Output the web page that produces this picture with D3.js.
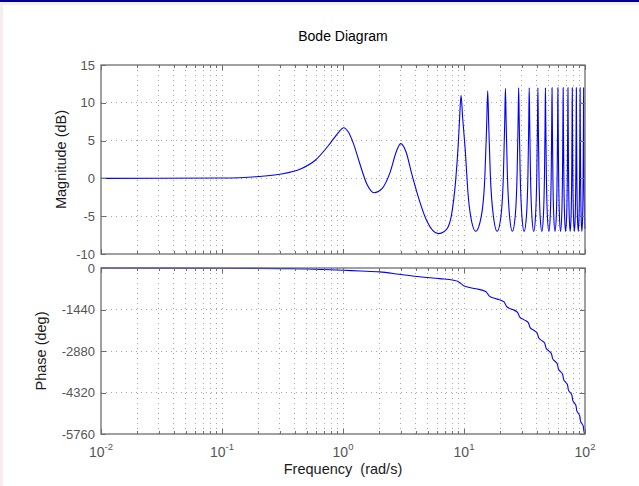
<!DOCTYPE html>
<html>
<head>
<meta charset="utf-8">
<script src="https://cdn.jsdelivr.net/npm/d3@7"></script>
<style>
  body { margin: 0; background: #fff; }
  svg { display: block; font-family: 'Liberation Sans', Arial, sans-serif; }
  .tick text { font-size: 13px; fill: #555; font-family: 'Liberation Sans', Arial, sans-serif; }
  .tick line { stroke: #6e6e6e; shape-rendering: crispEdges; }
  .grid line { stroke: #a6a6a6; stroke-dasharray: 1,4; shape-rendering: crispEdges; }
</style>
</head>
<body>
<div id="app"></div>
<script>
'use strict'

// magnitude curve (rad/s, dB)
const magFreq = [
  0.01, 0.03, 0.1, 0.2, 0.3, 0.44, 0.59, 0.78, 0.92, 1.01, 1.11, 1.22, 1.38, 1.57, 1.81,
  2.09, 2.45, 2.78, 3.0, 3.32, 3.7, 4.2, 4.92, 6.14, 7.2, 7.91, 8.53, 8.97, 9.2, 9.45,
  9.75, 10.2, 10.86, 11.6, 12.5,
  13.9, 14.9, 15.4, 15.7, 16.0, 16.5, 17.5, 18.8,
  20.2, 21.2, 21.7, 22.0, 22.3, 22.8, 23.8, 25.1,
  26.5, 27.5, 28.0, 28.3, 28.6, 29.1, 30.1, 31.4,
  32.8, 33.8, 34.3, 34.6, 34.9, 35.4, 36.4, 37.7,
  39.0, 40.0, 40.5, 40.8, 41.1, 41.6, 42.6, 44.0,
  45.3, 46.3, 46.8, 47.1, 47.4, 47.9, 48.9, 50.3,
  51.6, 52.6, 53.1, 53.4, 53.7, 54.2, 55.2, 56.5,
  57.9, 58.9, 59.4, 59.7, 60.0, 60.5, 61.5, 62.8,
  64.2, 65.2, 65.7, 66.0, 66.3, 66.8, 67.8, 69.1,
  70.5, 71.5, 72.0, 72.3, 72.6, 73.1, 74.1, 75.4,
  76.7, 77.7, 78.2, 78.5, 78.8, 79.3, 80.3, 81.7,
  83.0, 84.0, 84.5, 84.8, 85.1, 85.6, 86.6, 88.0,
  89.3, 90.3, 90.8, 91.1, 91.4, 91.9, 92.9, 94.2,
  95.6, 96.6, 97.1, 97.4, 97.7, 98.2, 99.2, 100
]
const magDb = [
  0, 0.01, 0.05, 0.25, 0.55, 1.2, 2.4, 4.6, 6.1, 6.7, 6.1, 4.6, 1.9, -0.7, -1.9,
  -1.4, 0.8, 3.7, 4.6, 3.5, 0.6, -2.5, -5.6, -7.3, -6.7, -4.7, -0.3, 4.6, 8.0, 11.0,
  8.0, 4.1, -2.5, -5.8, -7.0,
  -5.0, 0.5, 7.2, 11.6, 7.2, 0.5, -5.0, -7.0,
  -5.0, 0.8, 7.5, 11.9, 7.5, 0.8, -5.0, -7.0,
  -5.0, 0.9, 7.6, 12.0, 7.6, 0.9, -5.0, -7.0,
  -5.0, 0.9, 7.6, 12.0, 7.6, 0.9, -5.0, -7.0,
  -5.0, 0.9, 7.6, 12.0, 7.6, 0.9, -5.0, -7.0,
  -5.0, 0.9, 7.6, 12.0, 7.6, 0.9, -5.0, -7.0,
  -5.0, 0.9, 7.6, 12.0, 7.6, 0.9, -5.0, -7.0,
  -5.0, 0.9, 7.6, 12.0, 7.6, 0.9, -5.0, -7.0,
  -5.0, 0.9, 7.6, 12.0, 7.6, 0.9, -5.0, -7.0,
  -5.0, 0.9, 7.6, 12.0, 7.6, 0.9, -5.0, -7.0,
  -5.0, 0.9, 7.6, 12.0, 7.6, 0.9, -5.0, -7.0,
  -5.0, 0.9, 7.6, 12.0, 7.6, 0.9, -5.0, -7.0,
  -5.0, 0.9, 7.6, 12.0, 7.6, 0.9, -5.0, -7.0,
  -5.0, 0.9, 7.6, 12.0, 7.6, 0.9, -5.0, -6.7
]

// phase curve (rad/s, deg)
const phaseFreq = [
  0.01, 0.1, 0.3, 0.5, 0.78, 1.0, 1.4, 2.0, 2.9, 4.3, 6.3, 8.2, 8.85, 9.45, 10.05, 12.57,
  15.1, 15.7, 16.3, 18.85,
  21.4, 22.0, 22.6, 25.1,
  27.7, 28.3, 28.9, 31.4,
  34.0, 34.6, 35.2, 37.7,
  40.2, 40.8, 41.4, 44.0,
  46.5, 47.1, 47.7, 50.3,
  52.8, 53.4, 54.0, 56.5,
  59.1, 59.7, 60.3, 62.8,
  65.4, 66.0, 66.6, 69.1,
  71.7, 72.3, 72.9, 75.4,
  77.9, 78.5, 79.1, 81.7,
  84.2, 84.8, 85.4, 88.0,
  90.5, 91.1, 91.7, 94.2,
  96.8, 97.4, 98.0, 100
]
const phaseDeg = [
  -1, -7, -20, -36, -60, -78, -105, -135, -215, -305, -370, -425, -460, -541, -626, -720,
  -815, -900, -984, -1080,
  -1176, -1261, -1345, -1438,
  -1537, -1622, -1706, -1799,
  -1898, -1983, -2067, -2160,
  -2253, -2338, -2422, -2521,
  -2614, -2699, -2783, -2882,
  -2975, -3060, -3144, -3237,
  -3336, -3421, -3505, -3598,
  -3697, -3782, -3866, -3959,
  -4058, -4143, -4227, -4320,
  -4414, -4498, -4582, -4681,
  -4775, -4859, -4943, -5042,
  -5136, -5220, -5304, -5398,
  -5497, -5581, -5665, -5745
]

const freqTicks = [0.01, 0.1, 1, 10, 100]
const freqExps = ['-2', '-1', '0', '1', '2']
const magTicks = [15, 10, 5, 0, -5, -10]
const phaseTicks = [0, -1440, -2880, -4320, -5760]

const W = 639, H = 486
const left = 101, right = 585
const mag = { top: 65, bottom: 254 }
const ph = { top: 268, bottom: 434 }

const svg = d3.select('#app').append('svg')
  .attr('width', W)
  .attr('height', H)

// page frame
svg.append('rect').attr('width', W).attr('height', H).attr('fill', '#fff')
svg.append('rect').attr('x', 0).attr('y', 2).attr('width', W).attr('height', 3).attr('fill', '#f6eeee')
svg.append('rect').attr('x', 0).attr('y', 2).attr('width', 3).attr('height', H).attr('fill', '#f6eeee')
svg.append('rect').attr('x', 0).attr('y', 0).attr('width', W).attr('height', 2).attr('fill', '#00008f')

const x = d3.scaleLog().domain([0.01, 100]).range([left, right])
const isMajor = t => Math.abs(Math.log10(t) - Math.round(Math.log10(t))) < 1e-9
const allTicks = x.ticks()
const minorTicks = allTicks.filter(t => !isMajor(t))

const yMag = d3.scaleLinear().domain([-10, 15]).range([mag.bottom, mag.top])
const yPh = d3.scaleLinear().domain([-5760, 0]).range([ph.bottom, ph.top])

const drawPanel = (y, box, ticks, values, freqs) => {
  // dotted grid
  const grid = svg.append('g').attr('class', 'grid')
  grid.selectAll('.vg')
    .data(allTicks.filter(t => t > 0.0101 && t < 99.9))
    .join('line')
      .attr('class', 'vg')
      .attr('x1', d => x(d)).attr('x2', d => x(d))
      .attr('y1', box.top).attr('y2', box.bottom)
  grid.selectAll('.hg')
    .data(ticks.filter(t => y(t) > box.top + 1 && y(t) < box.bottom - 1))
    .join('line')
      .attr('class', 'hg')
      .attr('x1', left).attr('x2', right)
      .attr('y1', d => y(d)).attr('y2', d => y(d))

  // curve
  const line = d3.line()
    .x(d => x(d[0]))
    .y(d => y(d[1]))
    .curve(d3.curveMonotoneX)
  svg.append('path')
    .datum(freqs.map((f, i) => [f, values[i]]))
    .attr('d', line)
    .attr('fill', 'none')
    .attr('stroke', '#0000ff')
    .attr('stroke-width', 1.1)

  // ticks on all four sides, pointing inward
  const axes = svg.append('g')
  axes.append('g').attr('transform', `translate(0,${box.bottom})`)
    .call(d3.axisBottom(x).tickValues(minorTicks).tickSize(-3).tickFormat(''))
  axes.append('g').attr('transform', `translate(0,${box.bottom})`)
    .call(d3.axisBottom(x).tickValues(freqTicks).tickSize(-5).tickFormat(''))
  axes.append('g').attr('transform', `translate(0,${box.top})`)
    .call(d3.axisTop(x).tickValues(minorTicks).tickSize(-3).tickFormat(''))
  axes.append('g').attr('transform', `translate(0,${box.top})`)
    .call(d3.axisTop(x).tickValues(freqTicks).tickSize(-5).tickFormat(''))
  axes.append('g').attr('transform', `translate(${left},0)`)
    .call(d3.axisLeft(y).tickValues(ticks).tickSize(-5).tickPadding(6).tickFormat(d => String(d)))
  axes.append('g').attr('transform', `translate(${right},0)`)
    .call(d3.axisRight(y).tickValues(ticks).tickSize(-5).tickFormat(''))
  axes.selectAll('.domain').remove()

  svg.append('rect')
    .attr('x', left).attr('y', box.top)
    .attr('width', right - left).attr('height', box.bottom - box.top)
    .attr('fill', 'none')
    .attr('stroke', '#6e6e6e')
    .attr('stroke-width', 1.3)
}

drawPanel(yMag, mag, magTicks, magDb, magFreq)
drawPanel(yPh, ph, phaseTicks, phaseDeg, phaseFreq)

// x tick labels 10^n
const xl = svg.append('g').selectAll('text')
  .data(freqTicks)
  .join('text')
    .attr('x', d => x(d))
    .attr('y', 456.5)
    .attr('text-anchor', 'middle')
    .style('font-size', '14px')
    .style('fill', '#555')
xl.append('tspan').text('10')
xl.append('tspan').attr('dy', -7).style('font-size', '9.5px').text((d, i) => freqExps[i])

// titles
svg.append('text')
  .attr('x', (left + right) / 2).attr('y', 41)
  .attr('text-anchor', 'middle')
  .style('font-size', '14px').style('fill', '#000')
  .text('Bode Diagram')

svg.append('text')
  .attr('x', (left + right) / 2).attr('y', 474)
  .attr('text-anchor', 'middle')
  .style('font-size', '14.5px').style('fill', '#1a1a1a')
  .style('white-space', 'pre')
  .text('Frequency  (rad/s)')

svg.append('text')
  .attr('transform', `translate(65.5,${(mag.top + mag.bottom) / 2}) rotate(-90)`)
  .attr('text-anchor', 'middle')
  .style('font-size', '14.5px').style('fill', '#1a1a1a')
  .text('Magnitude (dB)')

svg.append('text')
  .attr('transform', `translate(45.5,${(ph.top + ph.bottom) / 2}) rotate(-90)`)
  .attr('text-anchor', 'middle')
  .style('font-size', '14.5px').style('fill', '#1a1a1a')
  .text('Phase (deg)')
</script>
</body>
</html>
